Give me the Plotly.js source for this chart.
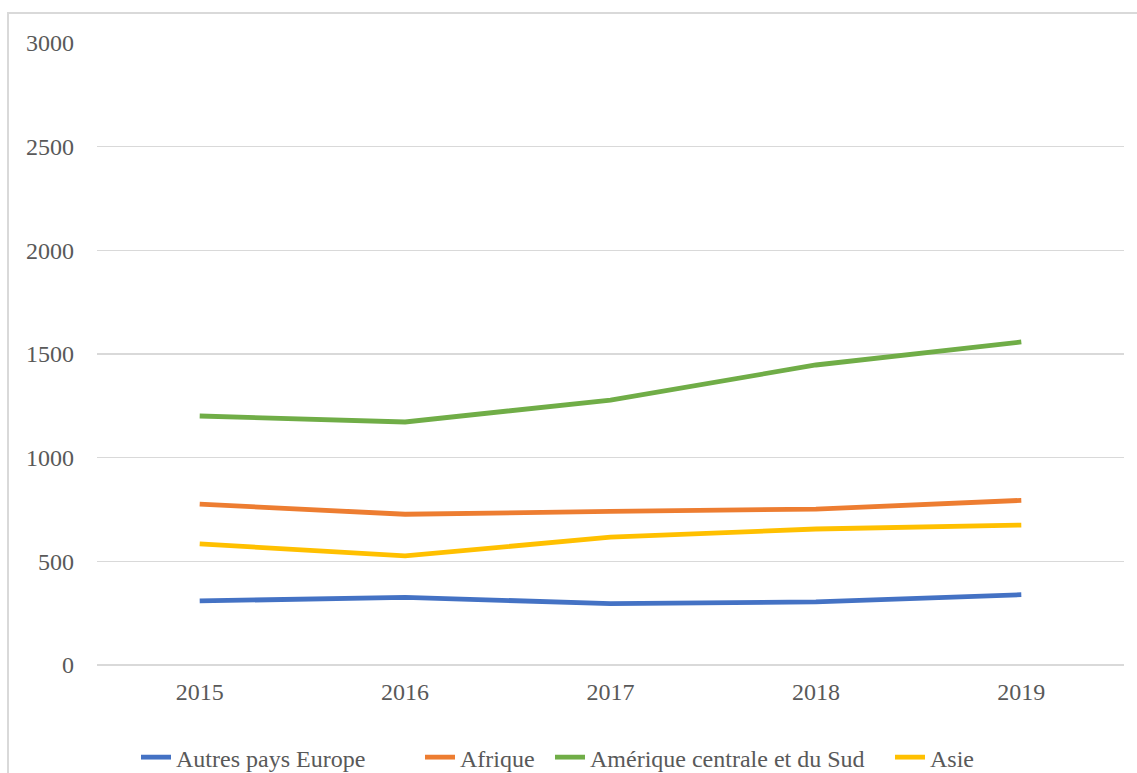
<!DOCTYPE html>
<html>
<head>
<meta charset="utf-8">
<script src="https://cdn.plot.ly/plotly-3.0.1.min.js"></script>
<style>
html,body{margin:0;padding:0;background:#fff;}
#wrap{position:relative;width:1137px;height:773px;overflow:hidden;}
#frame{position:absolute;left:7px;top:12px;width:1200px;height:900px;border-left:2px solid #d9d9d9;border-top:2px solid #d9d9d9;pointer-events:none;}
#chart{position:absolute;left:0;top:0;width:1137px;height:773px;}
</style>
</head>
<body>
<div id="wrap">
<div id="chart"></div>
<div id="frame"></div>
</div>
<script>
const years = ['2015','2016','2017','2018','2019'];
const seriesNames = ['Autres pays Europe','Afrique','Amérique centrale et du Sud','Asie'];
const autresEurope = [309, 326, 296, 304, 339];
const afrique = [776, 727, 741, 752, 794];
const ameriqueSud = [1201, 1172, 1278, 1447, 1558];
const asie = [584, 526, 617, 656, 675];
const yTicks = [0, 500, 1000, 1500, 2000, 2500, 3000];

const colors = ['#4472c4', '#ed7d31', '#70ad47', '#ffc000'];
const values = [autresEurope, afrique, ameriqueSud, asie];
const legendIds = ['legend', 'legend2', 'legend3', 'legend4'];
const legendLeft = [136, 420, 550, 890];

const traces = values.map((v, i) => ({
  type: 'scatter',
  mode: 'lines',
  x: years,
  y: v,
  name: seriesNames[i],
  legend: legendIds[i],
  line: {color: colors[i], width: 4.8, shape: 'linear'},
  hoverinfo: 'x+y+name'
}));

const FAMILY = 'Liberation Serif, Times New Roman, serif';
const mkFont = () => ({family: FAMILY, size: 24, color: '#595959'});

const layout = {
  width: 1137, height: 773,
  margin: {l: 97, r: 13, t: 43, b: 108, autoexpand: false},
  paper_bgcolor: '#ffffff',
  plot_bgcolor: '#ffffff',
  font: mkFont(),
  showlegend: true,
  xaxis: {
    type: 'category',
    range: [-0.5, 4.5],
    showgrid: false,
    showline: false,
    zeroline: false,
    ticks: '',
    tickfont: mkFont(),
    ticklabelstandoff: 10,
    fixedrange: true
  },
  yaxis: {
    range: [0, 3000],
    tickvals: yTicks,
    ticktext: yTicks.map(String),
    showgrid: true,
    gridcolor: '#d9d9d9',
    gridwidth: 1.5,
    zeroline: true,
    zerolinecolor: '#d9d9d9',
    zerolinewidth: 1.5,
    showline: false,
    ticks: '',
    tickfont: mkFont(),
    ticklabelstandoff: 22,
    fixedrange: true
  }
};

legendIds.forEach((id, i) => {
  layout[id] = {
    orientation: 'h',
    xref: 'container', yref: 'container',
    x: legendLeft[i] / 1137, xanchor: 'left',
    y: 0.02, yanchor: 'middle',
    font: mkFont(),
    bgcolor: 'rgba(0,0,0,0)'
  };
});

Plotly.newPlot('chart', traces, layout, {displayModeBar: false, staticPlot: true});
</script>
</body>
</html>
